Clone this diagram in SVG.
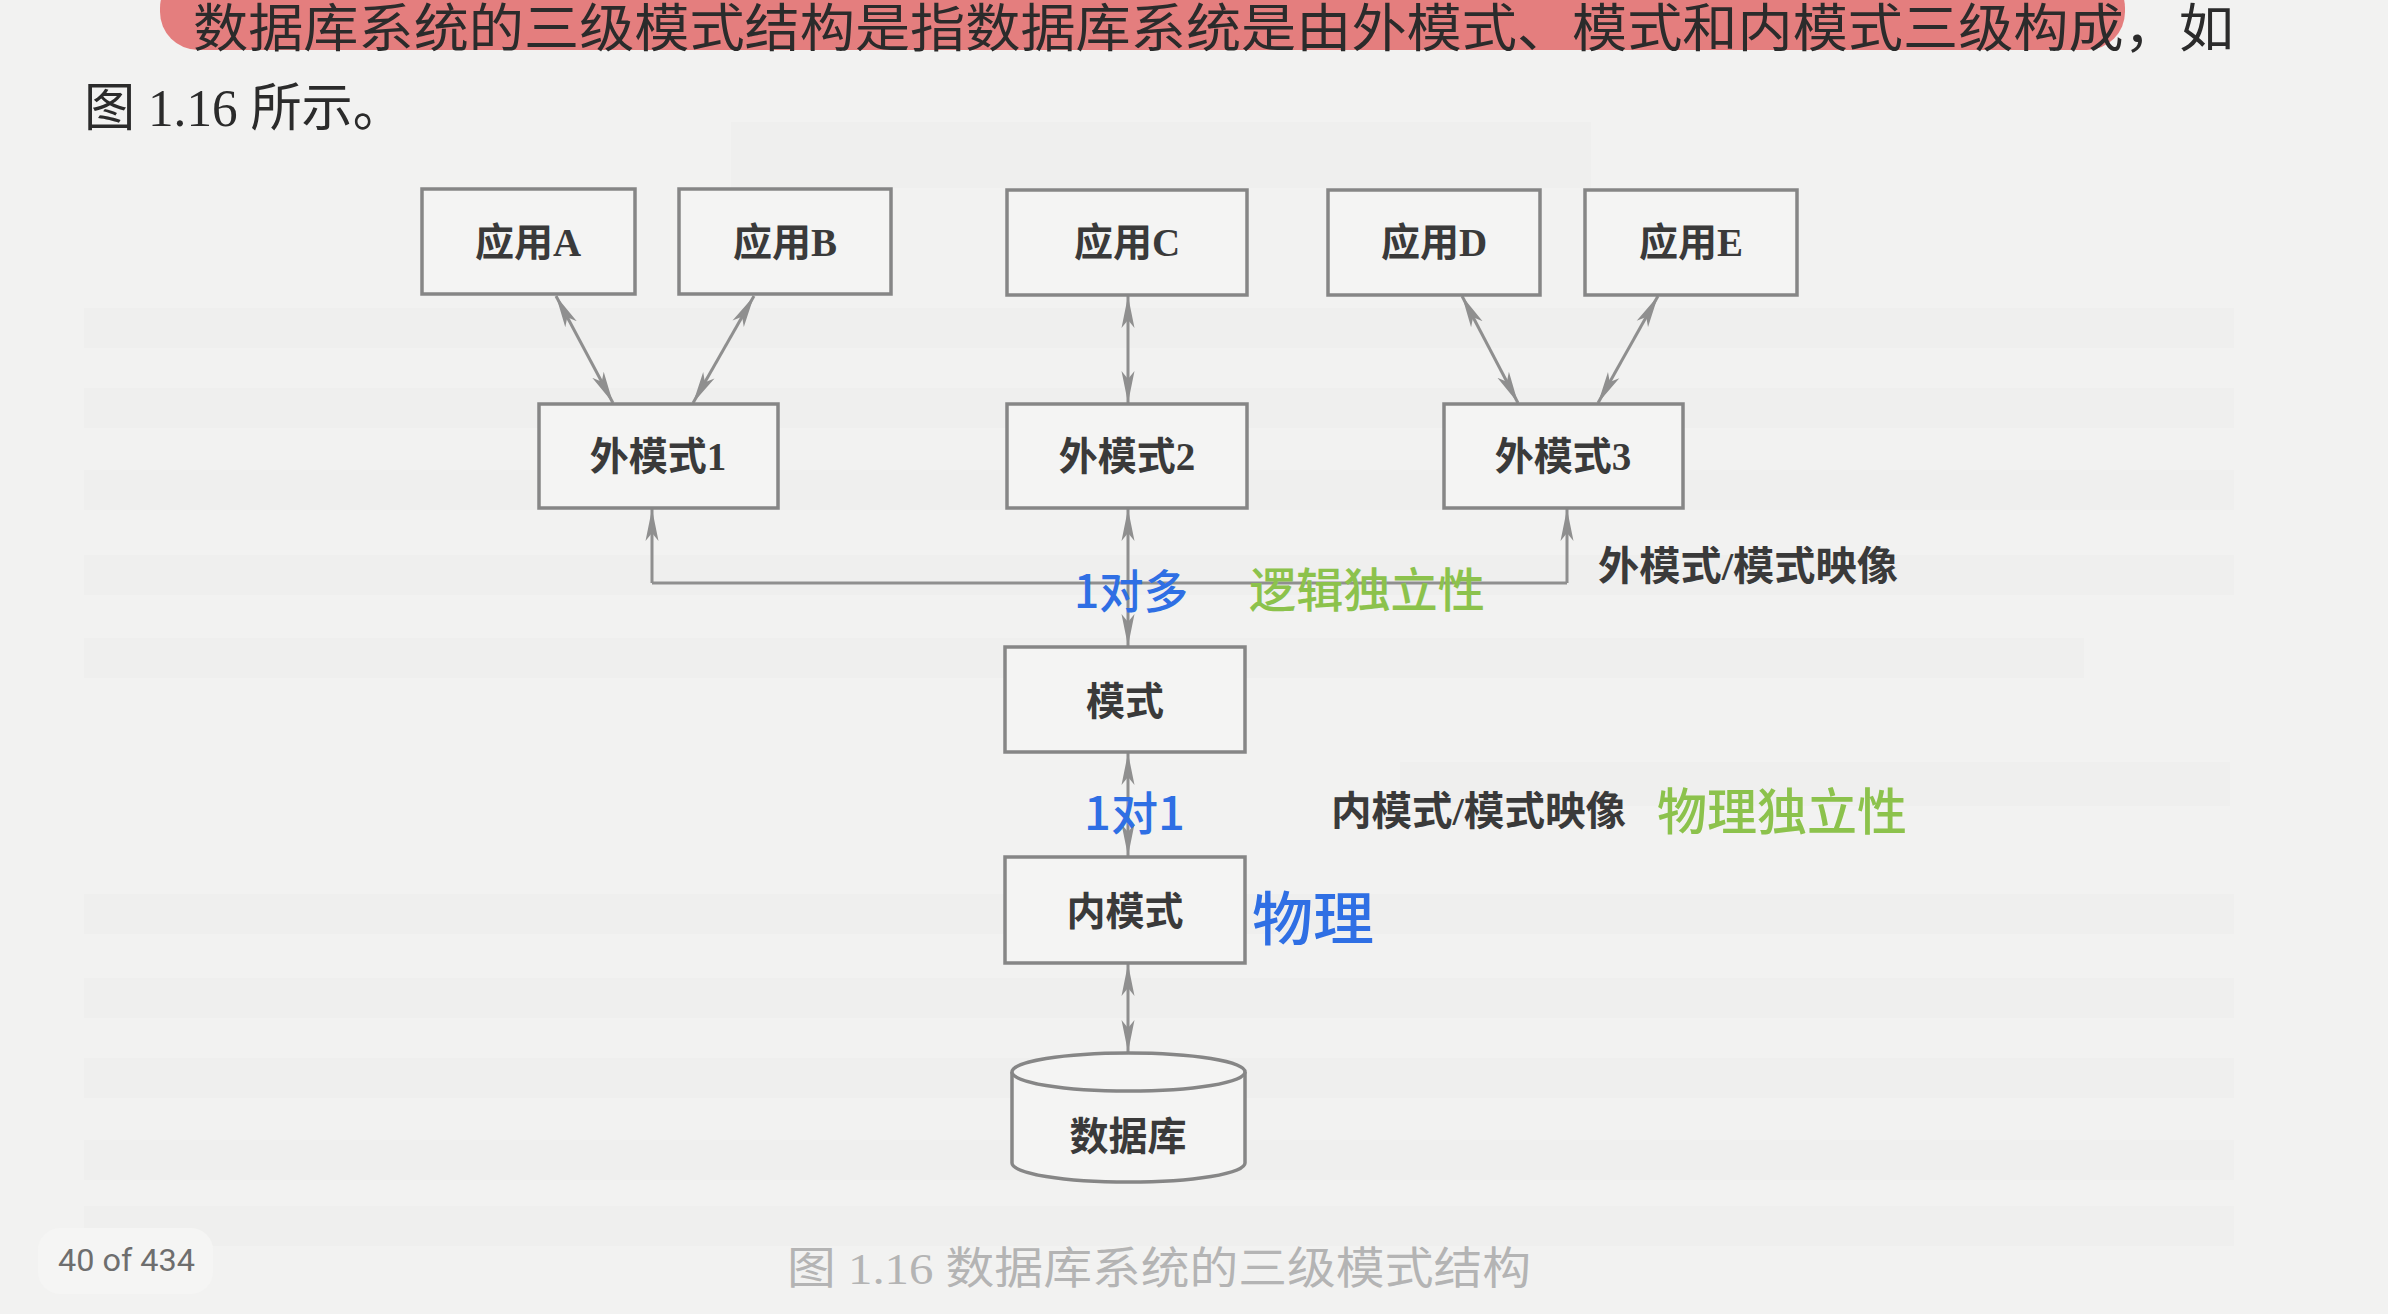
<svg xmlns="http://www.w3.org/2000/svg" width="2388" height="1314" viewBox="0 0 2388 1314">
  <defs>
    <style>
      .page { fill: #f2f2f1; }
      .ghost { fill: #000; opacity: 0.012; }
      .body { font-family: "Liberation Serif", "Noto Sans CJK SC", serif; fill: #2b2b2b; font-size: 52px; }
      .box { fill: #f4f4f3; stroke: #868686; stroke-width: 3.5; }
      .lbl { font-family: "Liberation Serif", "Noto Sans CJK SC", serif; font-weight: 700; font-size: 39px; fill: #3a3a3a; text-anchor: middle; }
      .map { font-family: "Liberation Serif", "Noto Sans CJK SC", serif; font-weight: 700; font-size: 40px; fill: #3a3a3a; }
      .conn { fill: none; stroke: #8f8f8f; stroke-width: 3; }
      .blue { font-family: "Noto Sans CJK SC", sans-serif; fill: #2f6fe4; font-weight: 500; }
      .green { font-family: "Noto Sans CJK SC", sans-serif; fill: #8cc24c; font-weight: 500; }
      .caption { font-family: "Liberation Serif", "Noto Sans CJK SC", serif; font-size: 44px; fill: #b4b4b4; }
    </style>
    <marker id="ah" viewBox="0 0 32 16" refX="32" refY="8" markerWidth="32" markerHeight="16" markerUnits="userSpaceOnUse" orient="auto-start-reverse">
      <path d="M0,1.5 L32,8 L0,14.5 L8,8 z" fill="#8f8f8f"/>
    </marker>
  </defs>

  <!-- page background -->
  <rect class="page" x="0" y="0" width="2388" height="1314"/>

  <!-- faint show-through from the reverse side of the page -->
  <g id="show-through">
    <rect class="ghost" x="731" y="122" width="860" height="66"/>
    <rect class="ghost" x="84" y="308" width="2150" height="40"/>
    <rect class="ghost" x="84" y="388" width="2150" height="40"/>
    <rect class="ghost" x="84" y="470" width="2150" height="40"/>
    <rect class="ghost" x="84" y="555" width="2150" height="40"/>
    <rect class="ghost" x="84" y="638" width="2000" height="40"/>
    <rect class="ghost" x="1400" y="762" width="830" height="44"/>
    <rect class="ghost" x="84" y="894" width="2150" height="40"/>
    <rect class="ghost" x="84" y="978" width="2150" height="40"/>
    <rect class="ghost" x="84" y="1058" width="2150" height="40"/>
    <rect class="ghost" x="84" y="1140" width="2150" height="40"/>
    <rect class="ghost" x="84" y="1206" width="2150" height="40"/>
  </g>

  <!-- running text above the figure, first line highlighted -->
  <g id="intro-text">
    <rect x="160" y="-30" width="1965" height="80" rx="38" fill="#e26a6a" opacity="0.85"/>
    <text class="body" x="193" y="47" textLength="2041" lengthAdjust="spacingAndGlyphs">数据库系统的三级模式结构是指数据库系统是由外模式、模式和内模式三级构成，如</text>
    <text class="body" x="84" y="126" textLength="320" lengthAdjust="spacingAndGlyphs">图 1.16 所示。</text>
  </g>

  <!-- connectors -->
  <g id="connectors">
    <line class="conn" x1="556" y1="296" x2="613" y2="403" marker-start="url(#ah)" marker-end="url(#ah)"/>
    <line class="conn" x1="754" y1="296" x2="693" y2="403" marker-start="url(#ah)" marker-end="url(#ah)"/>
    <line class="conn" x1="1128" y1="296" x2="1128" y2="403" marker-start="url(#ah)" marker-end="url(#ah)"/>
    <line class="conn" x1="1462" y1="296" x2="1518" y2="403" marker-start="url(#ah)" marker-end="url(#ah)"/>
    <line class="conn" x1="1658" y1="296" x2="1598" y2="403" marker-start="url(#ah)" marker-end="url(#ah)"/>
    <!-- external/conceptual mapping bracket -->
    <path class="conn" d="M652,583 L1567,583"/>
    <line class="conn" x1="652" y1="583" x2="652" y2="509" marker-end="url(#ah)"/>
    <line class="conn" x1="1567" y1="583" x2="1567" y2="509" marker-end="url(#ah)"/>
    <line class="conn" x1="1128" y1="509" x2="1128" y2="646" marker-start="url(#ah)" marker-end="url(#ah)"/>
    <line class="conn" x1="1128" y1="753" x2="1128" y2="856" marker-start="url(#ah)" marker-end="url(#ah)"/>
    <line class="conn" x1="1128" y1="964" x2="1128" y2="1052" marker-start="url(#ah)" marker-end="url(#ah)"/>
  </g>

  <!-- applications -->
  <g id="app-a"><rect class="box" x="422" y="189" width="213" height="105"/><text class="lbl" x="528" y="256">应用A</text></g>
  <g id="app-b"><rect class="box" x="679" y="189" width="212" height="105"/><text class="lbl" x="785" y="256">应用B</text></g>
  <g id="app-c"><rect class="box" x="1007" y="190" width="240" height="105"/><text class="lbl" x="1127" y="256">应用C</text></g>
  <g id="app-d"><rect class="box" x="1328" y="190" width="212" height="105"/><text class="lbl" x="1434" y="256">应用D</text></g>
  <g id="app-e"><rect class="box" x="1585" y="190" width="212" height="105"/><text class="lbl" x="1691" y="256">应用E</text></g>

  <!-- external schemas -->
  <g id="ext-1"><rect class="box" x="539" y="404" width="239" height="104"/><text class="lbl" x="658" y="470">外模式1</text></g>
  <g id="ext-2"><rect class="box" x="1007" y="404" width="240" height="104"/><text class="lbl" x="1127" y="470">外模式2</text></g>
  <g id="ext-3"><rect class="box" x="1444" y="404" width="239" height="104"/><text class="lbl" x="1563" y="470">外模式3</text></g>

  <!-- conceptual schema -->
  <g id="schema"><rect class="box" x="1005" y="647" width="240" height="105"/><text class="lbl" x="1125" y="715">模式</text></g>

  <!-- internal schema -->
  <g id="internal"><rect class="box" x="1005" y="857" width="240" height="106"/><text class="lbl" x="1125" y="925">内模式</text></g>

  <!-- database cylinder -->
  <g id="database">
    <path class="box" d="M1012,1072 L1012,1163 A116.5,19 0 0 0 1245,1163 L1245,1072"/>
    <ellipse class="box" cx="1128.5" cy="1072" rx="116.5" ry="19"/>
    <text class="lbl" x="1128" y="1150">数据库</text>
  </g>

  <!-- mapping labels -->
  <g id="mapping-labels">
    <text class="map" x="1598" y="580" textLength="300" lengthAdjust="spacingAndGlyphs">外模式/模式映像</text>
    <text class="map" x="1331" y="825" textLength="295" lengthAdjust="spacingAndGlyphs">内模式/模式映像</text>
  </g>

  <!-- handwritten notes -->
  <g id="notes">
    <text class="blue" x="1074" y="608" font-size="46" textLength="114" lengthAdjust="spacingAndGlyphs">1对多</text>
    <text class="green" x="1249" y="607" font-size="47" textLength="236" lengthAdjust="spacingAndGlyphs">逻辑独立性</text>
    <text class="blue" x="1084" y="830" font-size="46" textLength="101" lengthAdjust="spacingAndGlyphs">1对1</text>
    <text class="green" x="1657" y="830" font-size="50" textLength="250" lengthAdjust="spacingAndGlyphs">物理独立性</text>
    <text class="blue" x="1252" y="940" font-size="58" font-weight="700" textLength="122" lengthAdjust="spacingAndGlyphs">物理</text>
  </g>

  <!-- figure caption and page counter -->
  <text class="caption" x="787" y="1284" textLength="744" lengthAdjust="spacingAndGlyphs">图 1.16  数据库系统的三级模式结构</text>
  <g id="page-counter">
    <rect x="38" y="1228" width="175" height="66" rx="22" fill="#f5f5f4"/>
    <text x="58" y="1271" font-family="Roboto, 'Liberation Sans', sans-serif" font-size="32" fill="#6e6e6e" textLength="137" lengthAdjust="spacingAndGlyphs">40 of 434</text>
  </g>
</svg>
